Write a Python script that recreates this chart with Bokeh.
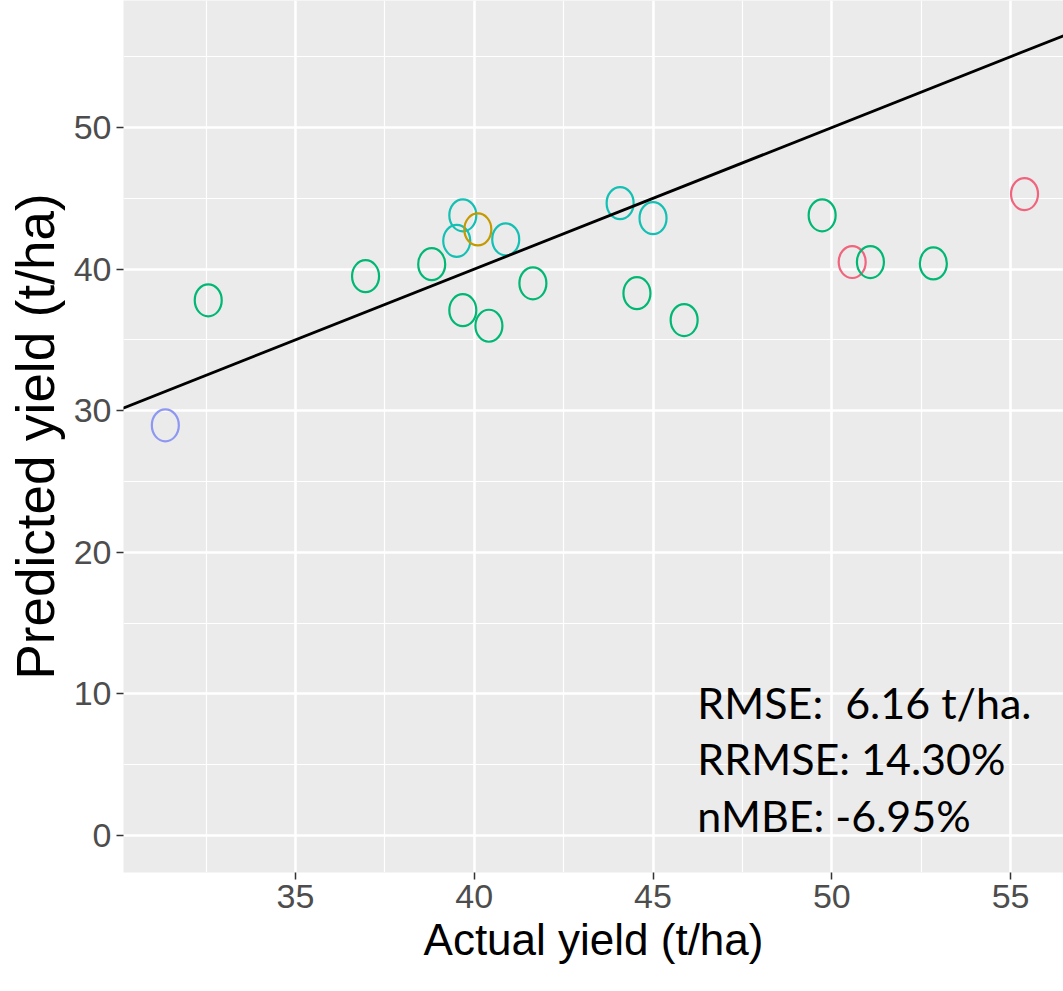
from bokeh.plotting import figure
from bokeh.models import (ColumnDataSource, Range1d, SingleIntervalTicker, Slope, Label)
from bokeh.embed import file_html
from bokeh.resources import INLINE

# ---- data ----
actual = [31.36, 32.56, 36.96, 38.81, 39.51, 39.68, 40.10, 39.68, 40.41, 40.88,
          41.64, 44.08, 44.55, 45.00, 45.87, 49.73, 50.57, 51.08, 52.84, 55.39]
predicted = [28.97, 37.80, 39.50, 40.35, 42.00, 43.80, 42.80, 37.10, 36.00, 42.10,
             39.00, 44.66, 38.30, 43.60, 36.40, 43.80, 40.50, 40.50, 40.40, 45.30]
group = ["blue", "green", "green", "green", "teal", "teal", "gold", "green", "green", "teal",
         "green", "teal", "green", "teal", "green", "green", "red", "green", "green", "red"]
palette = {"blue": "#8E97F2", "green": "#00B874", "teal": "#14C0B4",
           "gold": "#C49A00", "red": "#F0647E"}

stats_lines = ["RMSE:\u00a0 6.16 t/ha.", "RRMSE: 14.30%", "nMBE: -6.95%"]

x_label = "Actual yield (t/ha)"
y_label = "Predicted yield (t/ha)"

colors = [palette[g] for g in group]
src = ColumnDataSource(dict(x=actual, y=predicted, c=colors))

p = figure(width=1063, height=991, output_backend="svg", toolbar_location=None,
           x_range=Range1d(30.19, 56.48), y_range=Range1d(-2.61, 58.97),
           min_border_left=123, min_border_right=0, min_border_top=0, min_border_bottom=119)

p.background_fill_color = "#EBEBEB"
p.border_fill_color = "white"
p.outline_line_color = None

p.xaxis.ticker = SingleIntervalTicker(interval=5, num_minor_ticks=2)
p.yaxis.ticker = SingleIntervalTicker(interval=10, num_minor_ticks=2)

for g in (p.xgrid, p.ygrid):
    g.grid_line_color = "white"
    g.grid_line_width = 2.5
    g.minor_grid_line_color = "white"
    g.minor_grid_line_width = 1.2

for ax in (p.xaxis, p.yaxis):
    ax.axis_line_color = None
    ax.major_tick_in = 0
    ax.major_tick_out = 7
    ax.major_tick_line_color = "#333333"
    ax.major_tick_line_width = 1.5
    ax.minor_tick_line_color = None
    ax.major_label_text_font = "Liberation Sans"
    ax.major_label_text_font_size = "34px"
    ax.major_label_text_color = "#4D4D4D"
    ax.major_label_standoff = 5
    ax.axis_label_text_font = "Liberation Sans"
    ax.axis_label_text_font_style = "normal"
    ax.axis_label_text_color = "black"

p.xaxis.axis_label = x_label
p.yaxis.axis_label = y_label
p.xaxis.axis_label_text_font_size = "44px"
p.yaxis.axis_label_text_font_size = "53px"
p.xaxis.axis_label_standoff = 4
p.yaxis.axis_label_standoff = 6

p.add_layout(Slope(gradient=1, y_intercept=0, line_color="black", line_width=2.8))

p.ellipse(x="x", y="y", width=27, height=32, width_units="screen", height_units="screen",
          source=src, fill_color=None, line_color="c", line_width=2.2)

ys = [9.39, 5.44, 1.41]
for txt, yy in zip(stats_lines, ys):
    p.add_layout(Label(x=46.24, y=yy, text=txt, text_font="Lato", text_font_size="43px",
                       text_color="black", text_baseline="alphabetic", text_align="left"))

open("out.html", "w").write(file_html(p, INLINE))
